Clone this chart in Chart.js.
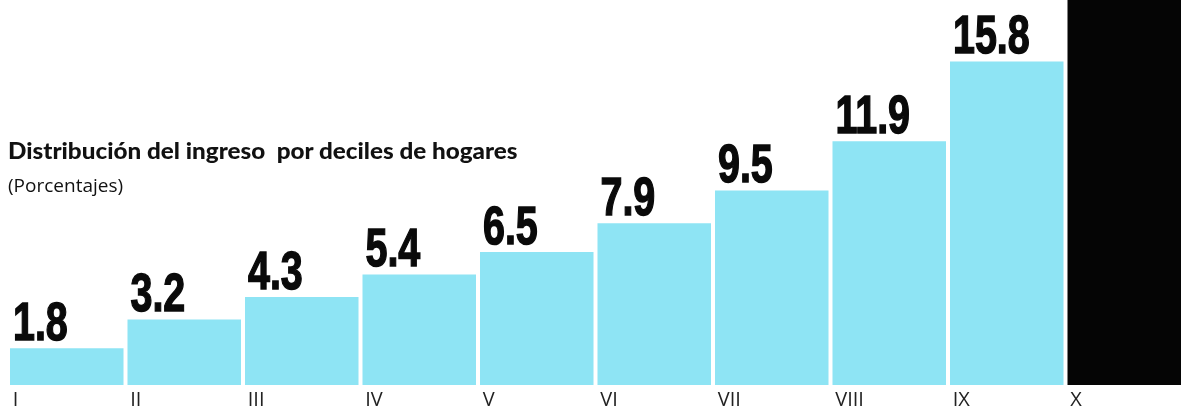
<!DOCTYPE html>
<html>
<head>
<meta charset="utf-8">
<script src="https://cdn.jsdelivr.net/npm/chart.js@4"></script>
<style>
  html, body { margin: 0; padding: 0; background: #fff; overflow: hidden; }
  #wrap { position: relative; width: 1183px; height: 411px; }
  #title {
    position: absolute; left: 8px; top: 139px;
    font: 900 22px Lato, sans-serif; color: #111; white-space: pre;
    transform-origin: 0 0; line-height: 24px;
  }
  #subtitle {
    position: absolute; left: 8px; top: 173px;
    font: 19px "Open Sans", sans-serif; color: #111; white-space: pre;
    line-height: 24px;
  }
</style>
</head>
<body>
<div id="wrap">
  <canvas id="chart" width="1183" height="411"></canvas>
  <div id="title">Distribución del ingreso  por deciles de hogares</div>
  <div id="subtitle">(Porcentajes)</div>
</div>
<script>
// Data
const deciles = ['I', 'II', 'III', 'IV', 'V', 'VI', 'VII', 'VIII', 'IX', 'X'];
const shares = [1.8, 3.2, 4.3, 5.4, 6.5, 7.9, 9.5, 11.9, 15.8, 33.7];
const barColors = ['#8ee4f4', '#8ee4f4', '#8ee4f4', '#8ee4f4', '#8ee4f4',
                   '#8ee4f4', '#8ee4f4', '#8ee4f4', '#8ee4f4', '#050505'];

// squeeze title to the width it has in the print
const title = document.getElementById('title');
title.style.transform = 'scaleX(' + (509 / title.offsetWidth) + ')';

// big condensed numbers above each bar
const valueLabels = {
  id: 'valueLabels',
  afterDatasetsDraw(chart) {
    const ctx = chart.ctx;
    const meta = chart.getDatasetMeta(0);
    ctx.save();
    ctx.fillStyle = '#0a0a0a';
    ctx.strokeStyle = '#0a0a0a';
    ctx.lineWidth = 1.5;
    ctx.font = 'bold 54px "Liberation Sans", sans-serif';
    ctx.textBaseline = 'alphabetic';
    ctx.textAlign = 'left';
    meta.data.forEach((bar, i) => {
      if (bar.y < 50) return; // top of X is off the page
      const x = bar.x - bar.width / 2 + 3;
      const y = bar.y - 8;
      ctx.save();
      ctx.translate(x, y);
      ctx.scale(0.73, 1);
      ctx.fillText(String(shares[i]), 0, 0);
      ctx.strokeText(String(shares[i]), 0, 0);
      ctx.restore();
    });
    ctx.restore();
  }
};

new Chart(document.getElementById('chart'), {
  type: 'bar',
  data: {
    labels: deciles,
    datasets: [{
      data: shares,
      backgroundColor: barColors,
      borderWidth: 0,
      categoryPercentage: 1,
      barPercentage: 0.966
    }]
  },
  options: {
    responsive: false,
    animation: false,
    layout: { padding: { left: 8, right: 0, top: 0, bottom: -4 } },
    plugins: {
      legend: { display: false },
      tooltip: { enabled: false }
    },
    scales: {
      x: {
        grid: { display: false, drawTicks: false },
        border: { display: false },
        ticks: {
          align: 'start',
          labelOffset: -54,
          padding: 5,
          autoSkip: false,
          maxRotation: 0,
          color: '#222',
          font: { family: '"Open Sans", sans-serif', size: 20, lineHeight: 1 }
        }
      },
      y: {
        display: false,
        min: 0,
        max: 18.8
      }
    }
  },
  plugins: [valueLabels]
});
</script>
</body>
</html>
